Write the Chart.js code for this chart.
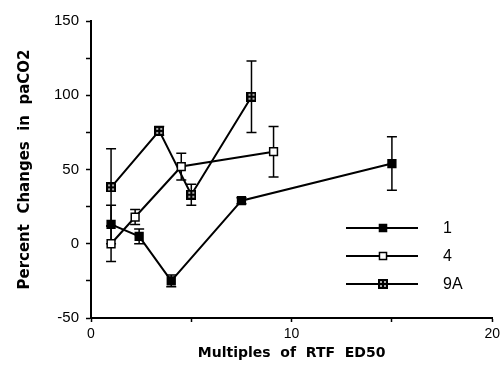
<!DOCTYPE html>
<html>
<head>
<meta charset="utf-8">
<script src="https://cdn.jsdelivr.net/npm/chart.js@4/dist/chart.umd.min.js"></script>
<style>
  html, body { margin: 0; padding: 0; background: #fff; }
  #wrap { width: 504px; height: 373px; }
</style>
</head>
<body>
<div id="wrap"><canvas id="chart" width="504" height="373"></canvas></div>
<script>
// values
const seriesNames = ['1', '4', '9A'];

const x1 = [1, 2.4, 4, 7.5, 15];
const y1 = [13, 5, -25, 29, 54];
const err1 = [13, 5, 4, 2, 18];

const x4 = [1, 2.2, 4.5, 9.1];
const y4 = [0, 18, 52, 62];
const err4 = [12, 5, 9, 17];

const x9 = [1, 3.4, 5, 8];
const y9 = [38, 76, 33, 99];
const err9 = [26, 3, 7, 24];

const xTicks = [0, 10, 20];
const yTicks = [-50, 0, 50, 100, 150];

const FONT = 'Liberation Sans';

// little square with a grid pattern, used for the hatched markers
function hatchedSquare() {
    const c = document.createElement('canvas');
    c.width = 10; c.height = 10;
    const g = c.getContext('2d');
    g.fillStyle = '#000';
    g.fillRect(0, 0, 10, 10);
    g.fillStyle = '#aaa';
    g.fillRect(2, 2, 2, 2); g.fillRect(6, 2, 2, 2);
    g.fillRect(2, 6, 2, 2); g.fillRect(6, 6, 2, 2);
    return c;
}
const hatch = hatchedSquare();

function pts(xs, ys) {
    return xs.map((x, i) => ({ x: x, y: ys[i] }));
}

const styles = [
    { pointStyle: 'rect', backgroundColor: '#000', borderColor: '#000' },
    { pointStyle: 'rect', backgroundColor: '#fff', borderColor: '#000' },
    { pointStyle: hatch, backgroundColor: '#000', borderColor: '#000' }
];

const errorBars = {
    id: 'errorBars',
    beforeDatasetsDraw(chart) {
        const ctx = chart.ctx;
        const sx = chart.scales.x, sy = chart.scales.y;
        ctx.save();
        ctx.strokeStyle = '#000';
        ctx.lineWidth = 1.5;
        chart.data.datasets.forEach(ds => {
            ds.data.forEach((p, j) => {
                const e = ds.errors[j];
                if (!e) return;
                const px = sx.getPixelForValue(p.x);
                const top = sy.getPixelForValue(p.y + e);
                const bot = sy.getPixelForValue(p.y - e);
                ctx.beginPath();
                ctx.moveTo(px, top); ctx.lineTo(px, bot);
                ctx.moveTo(px - 5, top); ctx.lineTo(px + 5, top);
                ctx.moveTo(px - 5, bot); ctx.lineTo(px + 5, bot);
                ctx.stroke();
            });
        });
        ctx.restore();
    }
};

const sideLegend = {
    id: 'sideLegend',
    afterDraw(chart) {
        const ctx = chart.ctx;
        ctx.save();
        chart.data.datasets.forEach((ds, i) => {
            const y = 228 + i * 28;
            ctx.strokeStyle = '#000';
            ctx.lineWidth = 2;
            ctx.beginPath();
            ctx.moveTo(346, y); ctx.lineTo(418, y);
            ctx.stroke();
            ctx.fillStyle = ds.backgroundColor;
            ctx.strokeStyle = ds.borderColor;
            ctx.lineWidth = 1.5;
            Chart.helpers.drawPoint(ctx, { pointStyle: ds.pointStyle, radius: 5, rotation: 0, borderWidth: 1.5 }, 383, y);
            ctx.fillStyle = '#000';
            ctx.font = '16px "' + FONT + '"';
            ctx.textAlign = 'left';
            ctx.textBaseline = 'middle';
            ctx.fillText(ds.label, 443, y + 1);
        });
        ctx.restore();
    }
};

const datasets = [[x1, y1, err1], [x4, y4, err4], [x9, y9, err9]].map((s, i) => ({
    label: seriesNames[i],
    data: pts(s[0], s[1]),
    errors: s[2],
    showLine: true,
    borderColor: '#000',
    borderWidth: 2,
    tension: 0,
    pointStyle: styles[i].pointStyle,
    backgroundColor: styles[i].backgroundColor,
    pointBackgroundColor: styles[i].backgroundColor,
    pointBorderColor: '#000',
    pointBorderWidth: 1.5,
    pointRadius: 5.5
}));

new Chart(document.getElementById('chart'), {
    type: 'scatter',
    data: { datasets: datasets },
    plugins: [errorBars, sideLegend],
    options: {
        responsive: false,
        animation: false,
        devicePixelRatio: 1,
        layout: { padding: { left: 0, top: 21, right: 10, bottom: 0 } },
        plugins: { legend: { display: false }, tooltip: { enabled: false } },
        scales: {
            x: {
                type: 'linear',
                min: 0, max: 20,
                afterFit: s => { s.height = 55; },
                border: { color: '#000', width: 2 },
                grid: { drawOnChartArea: false, tickLength: 4, tickColor: '#000', tickWidth: 1.5 },
                ticks: {
                    stepSize: 5, autoSkip: false, maxRotation: 0, padding: 4, color: '#000',
                    font: { family: FONT, size: 14 },
                    callback: v => xTicks.includes(v) ? String(v) : ''
                },
                title: {
                    display: true, text: 'Multiples  of  RTF  ED50', color: '#000',
                    font: { family: 'DejaVu Sans', size: 14, weight: 'bold' },
                    padding: { bottom: 11 }
                }
            },
            y: {
                min: -50, max: 150,
                afterFit: s => { s.width = 91; },
                border: { color: '#000', width: 2 },
                grid: { drawOnChartArea: false, tickLength: 5, tickColor: '#000', tickWidth: 1.5 },
                ticks: {
                    stepSize: 25, autoSkip: false, padding: 7, color: '#000',
                    font: { family: FONT, size: 15 },
                    callback: v => yTicks.includes(v) ? String(v) : ''
                },
                title: {
                    display: true, text: 'Percent  Changes  in  paCO2', color: '#000',
                    font: { family: 'DejaVu Sans', size: 15, weight: 'bold' },
                    padding: { top: 16 }
                }
            }
        }
    }
});
</script>
</body>
</html>
